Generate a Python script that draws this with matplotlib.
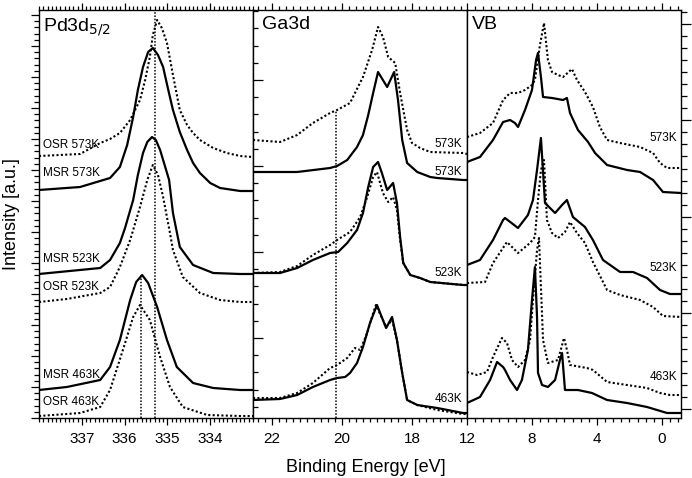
import matplotlib
matplotlib.use("Agg")
import matplotlib.pyplot as plt
from matplotlib.ticker import MultipleLocator, NullFormatter

plt.rcParams['font.family'] = ['Liberation Sans', 'DejaVu Sans']

# ---- Pd3d5/2 core level (binding energy in eV, intensity in a.u.) ----
pd_osr573_e = [338.00, 337.04, 336.57, 336.34, 336.11, 335.87, 335.64, 335.52, 335.41, 335.34, 335.24,
               335.13, 335.01, 334.87, 334.71, 334.54, 334.40, 334.24, 333.93, 333.61, 333.30, 333.00]
pd_osr573_i = [262, 264, 275, 279, 285, 298, 318, 338, 361, 383, 398,
               390, 375, 343, 308, 293, 285, 278, 270, 265, 262, 261]

pd_msr573_e = [338.00, 337.04, 336.34, 336.11, 335.94, 335.80, 335.69, 335.57, 335.45, 335.34, 335.22,
               335.10, 334.99, 334.87, 334.71, 334.54, 334.40, 334.24, 334.00, 333.77, 333.30, 333.00]
pd_msr573_i = [228, 231, 240, 251, 273, 301, 328, 351, 366, 370, 363,
               351, 330, 308, 286, 268, 255, 245, 235, 230, 227, 227]

pd_msr523_e = [338.00, 336.57, 336.34, 336.11, 335.99, 335.80, 335.69, 335.57, 335.47, 335.36, 335.27,
               335.17, 334.96, 334.87, 334.71, 334.40, 333.93, 333.30, 333.00]
pd_msr523_i = [144, 150, 158, 175, 190, 218, 243, 265, 276, 281, 278,
               268, 238, 205, 171, 153, 145, 144, 144]

pd_osr523_e = [338.00, 337.35, 336.57, 336.34, 336.11, 335.87, 335.64, 335.47, 335.34, 335.22, 335.10,
               334.94, 334.87, 334.64, 334.24, 333.77, 333.30, 333.00]
pd_osr523_i = [116, 119, 125, 131, 151, 178, 211, 238, 253, 243, 221,
               185, 168, 141, 125, 118, 116, 116]

pd_msr463_e = [338.00, 337.35, 336.57, 336.34, 336.11, 335.87, 335.73, 335.59, 335.45, 335.24, 335.01,
               334.78, 334.40, 333.93, 333.30, 333.00]
pd_msr463_i = [28, 31, 38, 51, 78, 118, 136, 143, 135, 111, 78,
               51, 35, 30, 28, 28]

pd_osr463_e = [338.00, 337.04, 336.57, 336.34, 336.04, 335.80, 335.64, 335.41, 335.17, 334.94, 334.64,
               334.07, 333.30, 333.00]
pd_osr463_i = [2, 5, 11, 28, 68, 101, 113, 98, 61, 31, 11, 3, 2, 2]

pd_ref_e = [335.28, 335.62]
pd_ref_top = [408, 143]

# ---- Ga3d core level ----
ga_osr573_e = [22.54, 21.77, 21.28, 20.83, 20.34, 20.14, 19.77, 19.40, 19.14, 18.97, 18.83, 18.68,
               18.48, 18.34, 18.14, 18.00, 17.77, 17.48, 16.54, 16.43]
ga_osr573_i = [278, 276, 283, 295, 305, 308, 315, 341, 368, 391, 381, 361,
               355, 325, 288, 275, 270, 266, 265, 264]

ga_msr573_e = [22.54, 21.28, 20.34, 20.14, 19.85, 19.57, 19.40, 19.25, 19.11, 18.97, 18.71, 18.51,
               18.40, 18.28, 18.14, 17.85, 17.48, 17.28, 16.54, 16.43]
ga_msr573_i = [246, 246, 250, 252, 258, 271, 283, 303, 325, 346, 331, 346,
               318, 278, 255, 246, 241, 240, 238, 238]

ga_msr523_e = [22.54, 21.77, 21.28, 20.83, 20.34, 20.11, 19.85, 19.57, 19.40, 19.25, 19.11, 18.97,
               18.86, 18.71, 18.54, 18.43, 18.34, 18.25, 18.05, 17.77, 17.48, 16.54, 16.43]
ga_msr523_i = [145, 145, 150, 158, 165, 166, 175, 188, 205, 231, 251, 256,
               245, 228, 235, 215, 181, 155, 143, 140, 136, 133, 133]

ga_osr523_e = [22.54, 21.77, 21.28, 20.83, 20.34, 20.14, 19.77, 19.48, 19.28, 19.11, 19.00, 18.83,
               18.68, 18.54, 18.43, 18.34, 18.25, 18.05, 17.77, 17.48, 16.54, 16.43]
ga_osr523_i = [145, 146, 152, 163, 173, 178, 186, 201, 221, 241, 246, 225,
               216, 221, 208, 178, 155, 143, 140, 136, 133, 133]

ga_msr463_e = [22.54, 21.77, 21.28, 20.83, 20.34, 20.14, 19.91, 19.77, 19.57, 19.40, 19.20, 19.00,
               18.74, 18.57, 18.43, 18.28, 18.14, 17.85, 17.28, 16.54, 16.43]
ga_msr463_i = [18, 19, 23, 31, 38, 40, 41, 45, 55, 71, 95, 113,
               90, 101, 78, 45, 18, 13, 10, 5, 5]

ga_osr463_e = [22.54, 21.77, 21.28, 20.83, 20.34, 20.14, 19.85, 19.63, 19.48, 19.28, 19.11, 19.03,
               18.74, 18.57, 18.43, 18.28, 18.14, 17.85, 17.28, 16.54, 16.43]
ga_osr463_i = [20, 20, 25, 35, 50, 53, 60, 70, 68, 85, 105, 113,
               91, 98, 78, 45, 18, 13, 8, 4, 4]

ga_ref_e = 20.17
ga_ref_top = 308

# ---- valence band ----
vb_osr573_e = [12.00, 11.20, 10.40, 9.78, 9.35, 8.86, 8.43, 8.00, 7.82, 7.51, 7.26, 7.02, 6.77,
               6.40, 6.09, 5.54, 5.23, 4.74, 4.25, 3.82, 3.38, 2.58, 1.35, 0.55, 0.12, -0.31, -1.17]
vb_osr573_i = [281, 285, 295, 318, 325, 325, 328, 333, 338, 373, 395, 358, 346,
               343, 341, 349, 338, 326, 311, 291, 278, 275, 271, 265, 255, 250, 250]

vb_msr573_e = [12.00, 11.20, 10.40, 9.78, 9.35, 9.05, 8.86, 8.43, 8.00, 7.75, 7.63, 7.45, 7.32,
               6.77, 6.09, 5.85, 5.66, 5.17, 4.55, 4.12, 3.38, 2.15, 1.35, 0.55, -0.06, -1.17]
vb_msr573_i = [256, 261, 278, 296, 298, 295, 291, 308, 328, 358, 365, 341, 321,
               320, 318, 320, 305, 288, 276, 265, 253, 248, 246, 238, 226, 225]

vb_msr523_e = [12.00, 11.20, 10.40, 9.78, 9.66, 8.86, 8.25, 7.94, 7.69, 7.45, 7.20, 6.58, 6.15,
               5.85, 5.48, 4.74, 4.25, 3.63, 2.58, 1.78, 0.92, 0.12, -0.49, -1.17]
vb_msr523_i = [153, 158, 178, 198, 200, 190, 203, 218, 248, 280, 215, 205, 213,
               218, 201, 191, 178, 158, 146, 146, 140, 128, 124, 124]

vb_osr523_e = [12.00, 10.89, 10.40, 9.54, 8.86, 8.12, 7.82, 7.63, 7.45, 7.26, 7.08, 6.77, 6.40,
               5.97, 5.66, 5.23, 4.74, 4.25, 3.38, 2.58, 1.35, 0.55, -0.06, -1.17]
vb_osr523_i = [135, 136, 155, 176, 165, 175, 181, 218, 248, 258, 198, 185, 180,
               186, 196, 185, 175, 156, 128, 123, 118, 111, 102, 101]

vb_msr463_e = [12.00, 11.20, 10.58, 10.15, 9.78, 9.66, 9.35, 9.05, 8.92, 8.62, 8.25, 8.00, 7.82,
               7.69, 7.63, 7.38, 7.02, 6.58, 6.28, 6.15, 5.97, 5.17, 4.31, 3.38, 2.15, 0.92, -0.31, -1.17]
vb_msr463_i = [15, 21, 38, 56, 51, 48, 38, 31, 28, 38, 68, 118, 151,
               101, 45, 33, 31, 38, 58, 65, 28, 28, 25, 18, 15, 11, 5, 5]

vb_osr463_e = [12.00, 11.38, 10.77, 10.40, 9.85, 9.54, 9.23, 8.86, 8.43, 8.12, 7.94, 7.69, 7.57,
               7.32, 7.02, 6.40, 6.03, 5.85, 5.66, 4.62, 4.25, 3.38, 2.15, 0.92, 0.12, -0.49, -1.17]
vb_osr463_i = [46, 43, 46, 61, 80, 75, 58, 51, 58, 78, 118, 168, 180,
               78, 55, 58, 80, 68, 53, 50, 48, 36, 33, 30, 25, 23, 23]

pd_labels = ["OSR 573K", "MSR 573K", "MSR 523K", "OSR 523K", "MSR 463K", "OSR 463K"]
temp_labels = ["573K", "573K", "523K", "463K"]
vb_labels = ["573K", "523K", "463K"]

pd_ticks = [337, 336, 335, 334]
ga_ticks = [22, 20, 18]
vb_ticks = [12, 8, 4, 0]

DOT = (0, (1, 1.1))
SOLID_LW = 1.6
DOT_LW = 1.5

fig = plt.figure(figsize=(6.92, 4.78), dpi=100)
W, H = 692.0, 478.0
bottom = (H - 418) / H
height = 408 / H
width = 214 / W
ax1 = fig.add_axes([39 / W, bottom, width, height])
ax2 = fig.add_axes([253 / W, bottom, width, height])
ax3 = fig.add_axes([467 / W, bottom, width, height])

for ax in (ax1, ax2, ax3):
    ax.set_ylim(0, 408)
    for s in ax.spines.values():
        s.set_linewidth(1.0)
    ax.tick_params(axis='x', which='both', direction='out', top=True, bottom=True,
                   labeltop=False, labelsize=11, width=0.9, pad=5)
    ax.tick_params(axis='x', which='major', length=5)
    ax.tick_params(axis='x', which='minor', length=3)
    ax.yaxis.set_major_formatter(NullFormatter())

# Pd3d panel
ax1.plot(pd_osr573_e, pd_osr573_i, color='black', lw=DOT_LW, ls=DOT)
ax1.plot(pd_msr573_e, pd_msr573_i, color='black', lw=SOLID_LW)
ax1.plot(pd_msr523_e, pd_msr523_i, color='black', lw=SOLID_LW)
ax1.plot(pd_osr523_e, pd_osr523_i, color='black', lw=DOT_LW, ls=DOT)
ax1.plot(pd_msr463_e, pd_msr463_i, color='black', lw=SOLID_LW)
ax1.plot(pd_osr463_e, pd_osr463_i, color='black', lw=DOT_LW, ls=DOT)
ax1.vlines(pd_ref_e, 0, pd_ref_top, color='black', lw=1.1, ls=DOT)
ax1.set_xlim(338, 333)
ax1.set_xticks(pd_ticks)
ax1.xaxis.set_minor_locator(MultipleLocator(0.1))
ax1.yaxis.set_major_locator(MultipleLocator(31))
ax1.yaxis.set_minor_locator(MultipleLocator(6.2))
ax1.tick_params(axis='y', which='both', direction='out', left=True, right=False, width=0.9)
ax1.tick_params(axis='y', which='major', length=5.8)
ax1.tick_params(axis='y', which='minor', length=3.4)
ax1.text(0.02, 0.985, r"Pd3d$_{5/2}$", transform=ax1.transAxes, fontsize=14, va='top', ha='left')
pd_label_y = [0.669, 0.600, 0.390, 0.321, 0.105, 0.039]
for lab, yy in zip(pd_labels, pd_label_y):
    ax1.text(0.02, yy, lab, transform=ax1.transAxes, fontsize=8.5, va='center', ha='left')

# Ga3d panel
ax2.plot(ga_osr573_e, ga_osr573_i, color='black', lw=DOT_LW, ls=DOT)
ax2.plot(ga_msr573_e, ga_msr573_i, color='black', lw=SOLID_LW)
ax2.plot(ga_osr523_e, ga_osr523_i, color='black', lw=DOT_LW, ls=DOT)
ax2.plot(ga_msr523_e, ga_msr523_i, color='black', lw=SOLID_LW)
ax2.plot(ga_osr463_e, ga_osr463_i, color='black', lw=DOT_LW, ls=DOT)
ax2.plot(ga_msr463_e, ga_msr463_i, color='black', lw=SOLID_LW)
ax2.vlines(ga_ref_e, 0, ga_ref_top, color='black', lw=1.1, ls=DOT)
ax2.set_xlim(22.54, 16.43)
ax2.set_xticks(ga_ticks)
ax2.xaxis.set_minor_locator(MultipleLocator(0.2))
ax2.yaxis.set_major_locator(MultipleLocator(86, offset=80))
ax2.yaxis.set_minor_locator(MultipleLocator(17.2, offset=11.2))
ax2.tick_params(axis='y', which='both', direction='in', left=True, right=False, width=0.9)
ax2.tick_params(axis='y', which='major', length=7)
ax2.tick_params(axis='y', which='minor', length=3.6)
ax2.text(0.04, 0.985, "Ga3d", transform=ax2.transAxes, fontsize=14, va='top', ha='left')
ga_label_y = [0.672, 0.603, 0.355, 0.046]
for lab, yy in zip(temp_labels, ga_label_y):
    ax2.text(0.977, yy, lab, transform=ax2.transAxes, fontsize=8.5, va='center', ha='right')

# valence band panel
ax3.plot(vb_osr573_e, vb_osr573_i, color='black', lw=DOT_LW, ls=DOT)
ax3.plot(vb_msr573_e, vb_msr573_i, color='black', lw=SOLID_LW)
ax3.plot(vb_msr523_e, vb_msr523_i, color='black', lw=SOLID_LW)
ax3.plot(vb_osr523_e, vb_osr523_i, color='black', lw=DOT_LW, ls=DOT)
ax3.plot(vb_osr463_e, vb_osr463_i, color='black', lw=DOT_LW, ls=DOT)
ax3.plot(vb_msr463_e, vb_msr463_i, color='black', lw=SOLID_LW)
ax3.set_xlim(12, -1.17)
ax3.set_xticks(vb_ticks)
ax3.xaxis.set_minor_locator(MultipleLocator(0.5))
ax3.yaxis.set_major_locator(MultipleLocator(96.2, offset=9))
ax3.yaxis.set_minor_locator(MultipleLocator(12.025, offset=9))
ax3.tick_params(axis='y', which='both', direction='out', left=False, right=True, width=0.9)
ax3.tick_params(axis='y', which='major', length=7)
ax3.tick_params(axis='y', which='minor', length=4.2)
ax3.text(0.023, 0.985, "VB", transform=ax3.transAxes, fontsize=14, va='top', ha='left')
vb_label_y = [0.686, 0.368, 0.100]
for lab, yy in zip(vb_labels, vb_label_y):
    ax3.text(0.981, yy, lab, transform=ax3.transAxes, fontsize=8.5, va='center', ha='right')

fig.text(366 / W, 1 - 467 / H, "Binding Energy [eV]", fontsize=13, ha='center', va='center')
fig.text(12 / W, 1 - 214 / H, "Intensity [a.u.]", fontsize=13, ha='center', va='center', rotation=90)

fig.savefig("out.png", dpi=100)
